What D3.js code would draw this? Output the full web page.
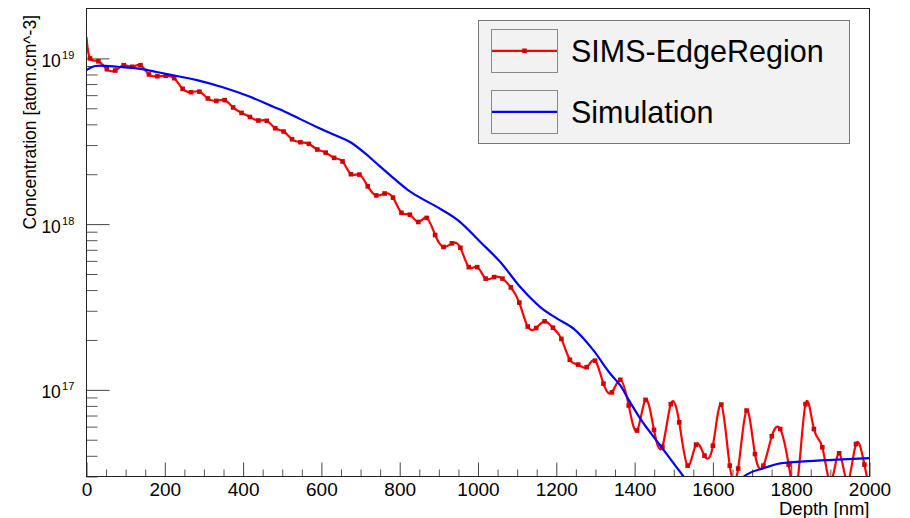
<!DOCTYPE html>
<html><head><meta charset="utf-8">
<script src="https://cdn.jsdelivr.net/npm/d3@7"></script>
<style>
body{margin:0;background:#fff}
svg{display:block}
text{font-family:"Liberation Sans",Arial,Helvetica,sans-serif;fill:#000}
</style>
</head><body>
<svg id="chart" width="910" height="518"></svg>
<script>
// ---------------- data ----------------
const seriesNames = ["SIMS-EdgeRegion", "Simulation"];
const xLabel = "Depth [nm]";
const yLabel = "Concentration [atom.cm^-3]";
const xTickValues = [0, 200, 400, 600, 800, 1000, 1200, 1400, 1600, 1800, 2000];
const yTickExponents = [17, 18, 19];

const depthSIMS = [0, 9, 30.5, 52, 73.5, 95, 116.5, 138, 159.5, 181, 202.5, 224, 245.5, 267, 288.5, 310, 331.5, 353, 374.5, 396,
  417.5, 439, 460.5, 482, 503.5, 525, 546.5, 568, 589.5, 611, 632.5, 654, 675.5, 697, 718.5, 740, 761.5, 783, 804.5, 826,
  847.5, 869, 890.5, 912, 933.5, 955, 976.5, 998, 1019.5, 1041, 1062.5, 1084, 1105.5, 1127, 1148.5, 1170, 1191.5, 1213, 1234.5, 1256,
  1277.5, 1299, 1320.5, 1342, 1363.5, 1385, 1406.5, 1428, 1449.5, 1471, 1492.5, 1514, 1535.5, 1557, 1578.5, 1600, 1621.5, 1643, 1664.5, 1686,
  1707.5, 1729, 1750.5, 1772, 1793.5, 1815, 1836.5, 1858, 1879.5, 1901, 1922.5, 1944, 1965.5, 1987, 2008.5];
const concSIMS = [1.34e19, 1.0e19, 9.6e18, 8.6e18, 8.45e18, 9.1e18, 8.9e18, 9.1e18, 8.0e18, 7.8e18,
  7.85e18, 7.6e18, 6.55e18, 6.25e18, 6.3e18, 5.73e18, 5.54e18, 5.6e18, 5.06e18, 4.69e18,
  4.43e18, 4.22e18, 4.2e18, 3.79e18, 3.62e18, 3.25e18, 3.12e18, 3.05e18, 2.82e18, 2.7e18,
  2.51e18, 2.39e18, 2.0e18, 1.99e18, 1.69e18, 1.49e18, 1.53e18, 1.445e18, 1.17e18, 1.14e18,
  1.03e18, 1.09e18, 8.6e17, 7.28e17, 7.66e17, 7.2e17, 5.5e17, 5.5e17, 4.69e17, 4.79e17,
  4.69e17, 4.15e17, 3.36e17, 2.41e17, 2.36e17, 2.59e17, 2.37e17, 2.03e17, 1.52e17, 1.42e17,
  1.37e17, 1.50e17, 1.09e17, 9.66e16, 1.15e17, 8.05e16, 5.68e16, 8.7e16, 5.73e16, 4.54e16,
  8.2e16, 6.37e16, 3.49e16, 4.67e16, 4.01e16, 4.6e16, 8.15e16, 3.49e16, 3.35e16, 7.5e16,
  4.1e16, 3.49e16, 5.25e16, 5.8e16, 3.54e16, 2.7e16, 8.2e16, 5.8e16, 4.5e16, 2.8e16,
  4.14e16, 2.8e16, 4.71e16, 3.54e16, 2.0e16];

const depthSim = [0, 22, 35, 80, 137, 205, 282, 350, 418, 477, 503, 546, 588, 640, 673, 712, 737, 776, 822, 852,
  895, 950, 1006, 1057, 1108, 1159, 1202, 1244, 1295, 1338, 1364, 1385, 1415, 1466, 1525, 1570, 1610, 1650, 1679, 1730,
  1772, 1832, 1917, 2000];
const concSim = [8.5e18, 9.0e18, 9.05e18, 8.9e18, 8.65e18, 8.04e18, 7.4e18, 6.68e18, 5.87e18, 5.1e18,
  4.82e18, 4.3e18, 3.86e18, 3.4e18, 3.13e18, 2.67e18, 2.37e18, 1.97e18, 1.6e18, 1.445e18,
  1.27e18, 1.05e18, 7.8e17, 5.9e17, 4.17e17, 3.16e17, 2.69e17, 2.34e17, 1.73e17, 1.25e17,
  1.06e17, 8.7e16, 6.68e16, 4.6e16, 3.0e16, 2.2e16, 1.9e16, 2.3e16, 3.0e16, 3.37e16,
  3.6e16, 3.7e16, 3.79e16, 3.87e16];

const simsData = depthSIMS.map((d, i) => ({x: d, y: concSIMS[i]}));
const simData = depthSim.map((d, i) => ({x: d, y: concSim[i]}));

// ---------------- layout ----------------
const L = 86.5, R = 869.5, T = 8.5, B = 476.5;
const svg = d3.select("#chart");
const x = d3.scaleLinear().domain([0, 2000]).range([L, R]);
const y = d3.scaleLog().domain([3e16, 2e19]).range([B, T]);

svg.append("rect").attr("width", 910).attr("height", 518).attr("fill", "#fff");

svg.append("defs").append("clipPath").attr("id", "plotclip")
  .append("rect").attr("x", L).attr("y", T).attr("width", R - L).attr("height", B - T);

// axes ticks
const minorX = d3.range(0, 2001, 50).filter(v => v % 200 !== 0);
const gx = svg.append("g").attr("transform", `translate(0,${B})`);
gx.call(d3.axisBottom(x).tickValues(minorX).tickSize(-7).tickFormat(""));
gx.selectAll("line").attr("stroke", "#555");
const gx2 = svg.append("g").attr("transform", `translate(0,${B})`);
gx2.call(d3.axisBottom(x).tickValues(xTickValues).tickSize(-14).tickPadding(6).tickFormat(d3.format("d")));
gx2.selectAll("line").attr("stroke", "#444");
gx2.selectAll("text").attr("font-size", "19px").attr("font-family", "Liberation Sans, Arial, sans-serif").attr("fill", "#000");
[gx, gx2].forEach(g => g.select(".domain").remove());

const minorY = [];
[16, 17, 18].forEach(e => { for (let m = 2; m <= 9; m++) { const v = m * Math.pow(10, e); if (v >= 3e16 && v < 2e19) minorY.push(v); } });
const majorY = yTickExponents.map(e => Math.pow(10, e));
const gy = svg.append("g").attr("transform", `translate(${L},0)`);
gy.call(d3.axisLeft(y).tickValues(minorY).tickSize(-11).tickFormat(""));
gy.selectAll("line").attr("stroke", "#555");
const gy2 = svg.append("g").attr("transform", `translate(${L},0)`);
gy2.call(d3.axisLeft(y).tickValues(majorY).tickSize(-23).tickFormat(""));
gy2.selectAll("line").attr("stroke", "#444");
[gy, gy2].forEach(g => g.select(".domain").remove());

// y tick labels 10^n
yTickExponents.forEach(e => {
  const yy = y(Math.pow(10, e));
  const t = svg.append("text").attr("x", 41.4).attr("y", yy + 8.4).attr("font-size", "17.5px");
  t.append("tspan").text("10");
  t.append("tspan").attr("dx", 1.2).attr("dy", -7.8).attr("font-size", "11px").text(String(e));
});

// data lines
const plot = svg.append("g").attr("clip-path", "url(#plotclip)");
const lineSims = d3.line().x(d => x(d.x)).y(d => y(d.y)).curve(d3.curveNatural);
const lineSim = d3.line().x(d => x(d.x)).y(d => y(d.y)).curve(d3.curveMonotoneX);

plot.append("path").datum(simsData).attr("d", lineSims)
  .attr("fill", "none").attr("stroke", "#ff0000").attr("stroke-width", 2.2).attr("stroke-linejoin", "round");
plot.selectAll("rect.mk").data(simsData.filter(d => d.x > 0)).join("rect").attr("class", "mk")
  .attr("x", d => x(d.x) - 2.3).attr("y", d => y(d.y) - 2.3).attr("width", 4.6).attr("height", 4.6)
  .attr("fill", "#d00000");
plot.append("path").datum(simData).attr("d", lineSim)
  .attr("fill", "none").attr("stroke", "#0000ff").attr("stroke-width", 2.2);

// frame
svg.append("rect").attr("x", L).attr("y", T).attr("width", R - L).attr("height", B - T)
  .attr("fill", "none").attr("stroke", "#222").attr("stroke-width", 1);

// axis titles
svg.append("text").attr("x", R).attr("y", 515).attr("text-anchor", "end").attr("font-size", "18.5px").text(xLabel);
svg.append("text").attr("transform", "translate(36,15) rotate(-90)").attr("text-anchor", "end")
  .attr("font-size", "17.5px").text(yLabel);

// legend
const lg = svg.append("g");
lg.append("rect").attr("x", 478.5).attr("y", 20.5).attr("width", 371).attr("height", 123)
  .attr("fill", "#f2f2f2").attr("stroke", "#777").attr("stroke-width", 1);
const entries = [
  {name: seriesNames[0], color: "#ff0000", marker: true, top: 29.5},
  {name: seriesNames[1], color: "#0000ff", marker: false, top: 90.5}
];
entries.forEach(en => {
  lg.append("rect").attr("x", 491.5).attr("y", en.top).attr("width", 66).attr("height", 43)
    .attr("fill", "#f2f2f2").attr("stroke", "#888").attr("stroke-width", 1);
  const cy = en.top + 21.3;
  lg.append("line").attr("x1", 492).attr("x2", 557).attr("y1", cy).attr("y2", cy)
    .attr("stroke", en.color).attr("stroke-width", 2.2);
  if (en.marker) lg.append("rect").attr("x", 524.5 - 2.3).attr("y", cy - 2.3).attr("width", 4.6).attr("height", 4.6).attr("fill", "#d00000");
  lg.append("text").attr("x", 571).attr("y", cy + 11).attr("font-size", "30.5px").text(en.name);
});
</script>
</body></html>
